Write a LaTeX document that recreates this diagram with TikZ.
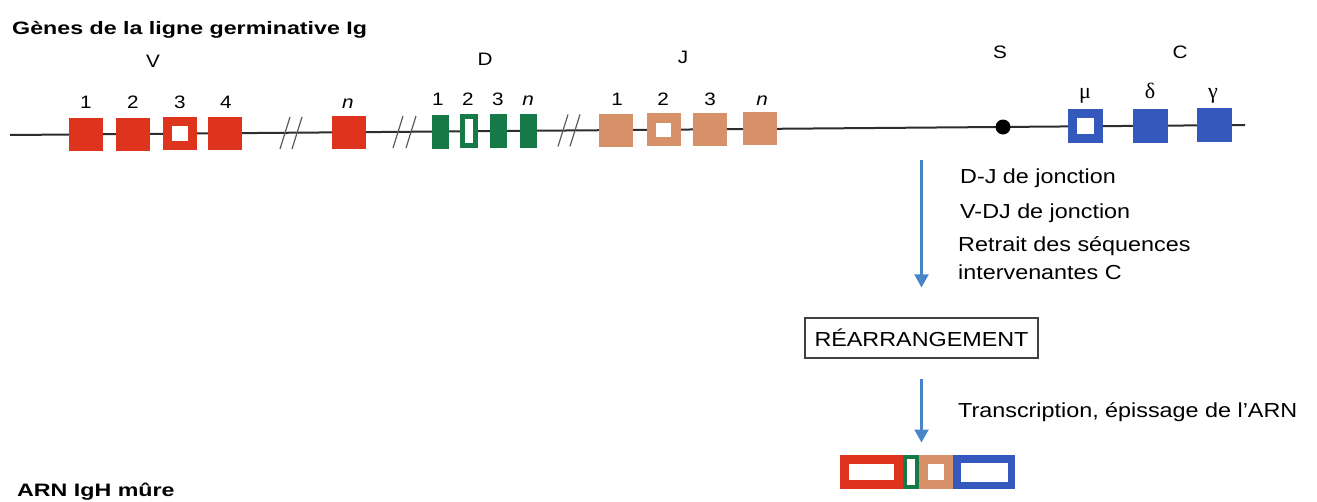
\documentclass[tikz,border=0pt]{standalone}
\usepackage{fontspec}
\setmainfont{Liberation Sans}[FakeStretch=1.15]
\newfontfamily\titlefont{Liberation Sans}[FakeStretch=1.29]
\newfontfamily\greekfont{Liberation Serif}
\usetikzlibrary{arrows.meta}
\definecolor{vred}{RGB}{222,52,30}
\definecolor{dgreen}{RGB}{22,122,72}
\definecolor{jtan}{RGB}{214,145,105}
\definecolor{cblue}{RGB}{52,88,188}
\definecolor{arblue}{RGB}{72,132,200}
\definecolor{lineg}{RGB}{45,45,45}
\definecolor{brkg}{RGB}{90,90,90}
\begin{document}
\begin{tikzpicture}[x=1pt,y=-1pt,
  gline/.style={draw=lineg,line width=2pt},
  brk/.style={draw=brkg,line width=1.2pt},
  box/.style={inner sep=0pt,outer sep=0pt,draw=none},
  vbox/.style={box,fill=vred,minimum width=34pt,minimum height=33pt},
  vopen/.style={box,draw=vred,fill=white,line width=9pt,minimum width=25pt,minimum height=24pt},
  dbox/.style={box,fill=dgreen,minimum width=17pt,minimum height=34pt},
  dopen/.style={box,draw=dgreen,fill=white,line width=5pt,minimum width=13pt,minimum height=29pt},
  jbox/.style={box,fill=jtan,minimum width=34pt,minimum height=33pt},
  jopen/.style={box,draw=jtan,fill=white,line width=9.5pt,minimum width=24.5pt,minimum height=23.5pt},
  cbox/.style={box,fill=cblue,minimum width=35pt,minimum height=34pt},
  copen/.style={box,draw=cblue,fill=white,line width=9pt,minimum width=26pt,minimum height=25pt},
  lab/.style={anchor=base,inner sep=0pt,font=\fontsize{18}{21}\selectfont},
  glab/.style={anchor=base,inner sep=0pt,font=\greekfont\fontsize{22}{25}\selectfont},
  txt/.style={anchor=base west,inner sep=0pt,font=\fontsize{20.3}{24}\selectfont},
  ttl/.style={anchor=base west,inner sep=0pt,font=\titlefont\bfseries\fontsize{18}{22}\selectfont},
  barrow/.style={draw=arblue,line width=2.2pt,-{Triangle[width=14pt,length=13pt]}}
]
\useasboundingbox (0,0) rectangle (1317,501);

% titles
\node[ttl] (title) at (12,34) {Gènes de la ligne germinative Ig};
\node[ttl] (arn) at (17,496) {ARN IgH mûre};

% gene line
\coordinate (L0) at (10,135);
\coordinate (L1) at (1245,125);
\draw[gline] (L0) -- (L1);

% break marks
\draw[brk] (280,149) -- (290,117);
\draw[brk] (292,149) -- (302,117);
\draw[brk] (393,148) -- (403,116);
\draw[brk] (406,148) -- (416,116);
\draw[brk] (558,146.5) -- (568,114.5);
\draw[brk] (570,146.4) -- (580,114.4);

% V segments
\node[vbox]  (V1) at (85.5,134.4) {};
\node[vbox]  (V2) at (133,134.0) {};
\node[vopen] (V3) at (179.5,133.6) {};
\node[vbox]  (V4) at (225,133.3) {};
\node[vbox]  (Vn) at (348.5,132.3) {};
% D segments
\node[dbox]  (D1) at (440,131.5) {};
\node[dopen] (D2) at (469,131.3) {};
\node[dbox]  (D3) at (498.5,131.0) {};
\node[dbox]  (Dn) at (528,130.8) {};
% J segments
\node[jbox]  (J1) at (616,130.1) {};
\node[jopen] (J2) at (663.5,129.7) {};
\node[jbox]  (J3) at (709.5,129.3) {};
\node[jbox]  (Jn) at (760,128.9) {};
% S dot
\node[box,circle,fill=black,minimum size=15pt] (Sdot) at (1003,127.0) {};
% C segments
\node[copen] (Cmu) at (1085.5,126.3) {};
\node[cbox]  (Cdelta) at (1150,125.8) {};
\node[cbox]  (Cgamma) at (1214,125.2) {};

% group labels
\node[lab] (labV) at (153,67) {V};
\node[lab] (labD) at (485,65) {D};
\node[lab] (labJ) at (683,63) {J};
\node[lab] (labS) at (1000,58) {S};
\node[lab] (labC) at (1180,58) {C};

% numbers
\node[lab] (nV1) at (86,108) {1};
\node[lab] (nV2) at (133,108) {2};
\node[lab] (nV3) at (180,108) {3};
\node[lab] (nV4) at (226,108) {4};
\node[lab] (nVn) at (348,108) {\itshape n};
\node[lab] (nD1) at (438,105) {1};
\node[lab] (nD2) at (468,105) {2};
\node[lab] (nD3) at (498,105) {3};
\node[lab] (nDn) at (528,105) {\itshape n};
\node[lab] (nJ1) at (617,105) {1};
\node[lab] (nJ2) at (663,105) {2};
\node[lab] (nJ3) at (710,105) {3};
\node[lab] (nJn) at (762,105) {\itshape n};
\node[glab] (gmu) at (1085,98) {μ};
\node[glab] (gdelta) at (1150,98) {δ};
\node[glab] (ggamma) at (1213,98) {γ};

% process texts
\node[txt] (t1) at (960,183) {D-J de jonction};
\node[txt] (t2) at (960,218) {V-DJ de jonction};
\node[txt] (t3) at (958,251) {Retrait des séquences};
\node[txt] (t4) at (958,279) {intervenantes C};
\node[txt] (t5) at (958,417) {Transcription, épissage de l'ARN};

% rearrangement box
\node[draw=black!75,line width=1.2pt,minimum width=233pt,minimum height=40pt,inner sep=0pt,
      font=\fontsize{20.3}{24}\selectfont] (rearr) at (921.5,338) {RÉARRANGEMENT};

% mature RNA
\node[box,draw=vred,fill=white,line width=9pt,minimum width=54pt,minimum height=25pt] (rnaV) at (871.5,472) {};
\node[box,draw=dgreen,fill=white,line width=4pt,minimum width=12pt,minimum height=30pt] (rnaD) at (911,472) {};
\node[box,draw=jtan,fill=white,line width=9pt,minimum width=25pt,minimum height=25pt] (rnaJ) at (936,472) {};
\node[box,draw=cblue,fill=white,line width=7.5pt,minimum width=54.5pt,minimum height=26.5pt] (rnaC) at (984,472) {};

% arrows
\coordinate (a1) at (921.5,160);
\draw[barrow,shorten >=30pt] (a1) -- (a1 |- rearr.north);
\draw[barrow,shorten <=20pt,shorten >=17pt] (rearr.south) -- (rearr.south |- rnaV.north);
\end{tikzpicture}
\end{document}
